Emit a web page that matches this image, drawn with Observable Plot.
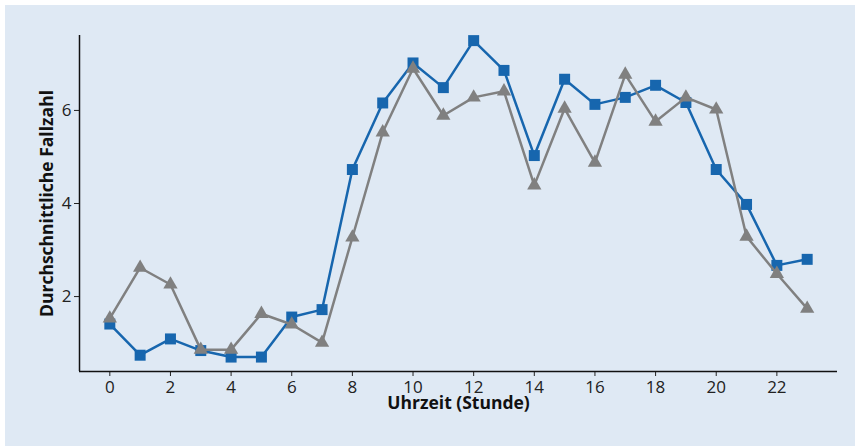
<!DOCTYPE html>
<html>
<head>
<meta charset="utf-8">
<script src="https://cdn.jsdelivr.net/npm/d3@7"></script>
<script src="https://cdn.jsdelivr.net/npm/@observablehq/plot@0.6"></script>
<style>
  html, body { margin: 0; padding: 0; background: #ffffff; }
  #wrap { padding: 5px 0 0 5px; width: 850px; height: 441px; }
  #chart svg { background: #dfe9f4; display: block; }
</style>
</head>
<body>
<div id="wrap"><div id="chart"></div></div>
<script>
const hours = [0,1,2,3,4,5,6,7,8,9,10,11,12,13,14,15,16,17,18,19,20,21,22,23];
const seriesBlue = [1.41,0.74,1.09,0.84,0.70,0.70,1.56,1.72,4.73,6.16,7.02,6.49,7.50,6.86,5.03,6.67,6.13,6.28,6.54,6.17,4.73,3.98,2.67,2.80];
const seriesGray = [1.53,2.62,2.26,0.86,0.86,1.63,1.40,1.01,3.27,5.53,6.90,5.89,6.28,6.41,4.39,6.04,4.88,6.77,5.76,6.28,6.02,3.29,2.49,1.74];
const xTicks = [0,2,4,6,8,10,12,14,16,18,20,22];
const yTicks = [2,4,6];
const xLabel = "Uhrzeit (Stunde)";
const yLabel = "Durchschnittliche Fallzahl";

const blue = hours.map((h, i) => ({h, v: seriesBlue[i]}));
const gray = hours.map((h, i) => ({h, v: seriesGray[i]}));

const xDom = [-1, 24];
const yDom = [0.39, 7.61];
const font = "'Open Sans', 'Noto Sans', sans-serif";

const plot = Plot.plot({
  width: 850,
  height: 441,
  marginLeft: 74,
  marginRight: 18,
  marginTop: 30,
  marginBottom: 75,
  style: {fontFamily: font, fontSize: "17px", color: "#222", background: "#dfe9f4"},
  x: {domain: xDom},
  y: {domain: yDom},
  marks: [
    Plot.axisX({ticks: xTicks, tickSize: 5, tickPadding: 4, label: null, fontSize: 17, stroke: "#222"}),
    Plot.axisY({ticks: yTicks, tickSize: 5, tickPadding: 3, label: null, fontSize: 17, stroke: "#222"}),
    Plot.ruleX([xDom[0]], {y1: yDom[0], y2: yDom[1], stroke: "#111", strokeWidth: 1.5}),
    Plot.ruleY([yDom[0]], {x1: xDom[0], x2: xDom[1], stroke: "#111", strokeWidth: 1.5}),
    Plot.line(blue, {x: "h", y: "v", stroke: "#1766ae", strokeWidth: 2.5}),
    Plot.dot(blue, {x: "h", y: "v", symbol: "square", r: 6.2, fill: "#1766ae", stroke: "none"}),
    Plot.line(gray, {x: "h", y: "v", stroke: "#808080", strokeWidth: 2.5}),
    Plot.dot(gray, {x: "h", y: "v", symbol: "triangle", r: 5.3, fill: "#808080", stroke: "none"}),
    Plot.text([yLabel], {frameAnchor: "left", textAnchor: "middle", rotate: -90, dx: -32, fontWeight: "bold", fontSize: 17.5, fill: "#111"}),
    Plot.text([xLabel], {frameAnchor: "bottom", textAnchor: "middle", dy: 37, fontWeight: "bold", fontSize: 17.5, fill: "#111"})
  ]
});
document.getElementById("chart").appendChild(plot);
</script>
</body>
</html>
